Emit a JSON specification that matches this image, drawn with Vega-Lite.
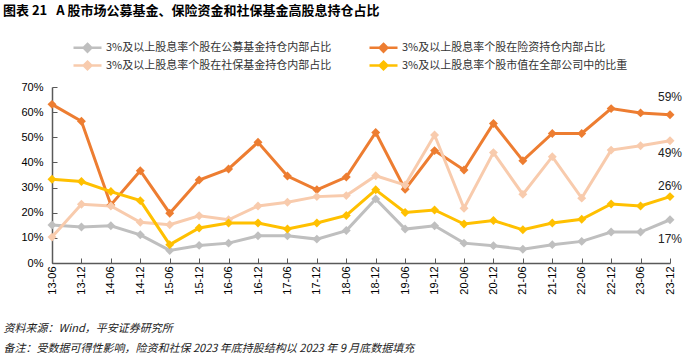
{
  "$schema": "https://vega.github.io/schema/vega-lite/v6.json",
  "width": 624,
  "height": 176,
  "autosize": "none",
  "padding": {"left": 52, "top": 87, "right": 24, "bottom": 95},
  "background": "white",
  "config": {
    "view": {"stroke": null},
    "font": "Noto Sans CJK SC"
  },
  "title": {
    "text": "图表\u00a021\u00a0\u00a0\u00a0A\u00a0股市场公募基金、保险资金和社保基金高股息持仓占比",
    "anchor": "start",
    "frame": "group",
    "dx": -49,
    "font": "Noto Sans CJK SC",
    "fontSize": 13,
    "fontWeight": "bold",
    "color": "#000000",
    "offset": 21
  },
  "data": {
    "values": [
      {"d": "13-06", "3%及以上股息率个股在公募基金持仓内部占比": 0.151, "3%及以上股息率个股在险资持仓内部占比": 0.631, "3%及以上股息率个股在社保基金持仓内部占比": 0.103, "3%及以上股息率个股市值在全部公司中的比重": 0.333},
      {"d": "13-12", "3%及以上股息率个股在公募基金持仓内部占比": 0.143, "3%及以上股息率个股在险资持仓内部占比": 0.564, "3%及以上股息率个股在社保基金持仓内部占比": 0.234, "3%及以上股息率个股市值在全部公司中的比重": 0.324},
      {"d": "14-06", "3%及以上股息率个股在公募基金持仓内部占比": 0.148, "3%及以上股息率个股在险资持仓内部占比": 0.231, "3%及以上股息率个股在社保基金持仓内部占比": 0.227, "3%及以上股息率个股市值在全部公司中的比重": 0.284},
      {"d": "14-12", "3%及以上股息率个股在公募基金持仓内部占比": 0.112, "3%及以上股息率个股在险资持仓内部占比": 0.367, "3%及以上股息率个股在社保基金持仓内部占比": 0.162, "3%及以上股息率个股市值在全部公司中的比重": 0.248},
      {"d": "15-06", "3%及以上股息率个股在公募基金持仓内部占比": 0.050, "3%及以上股息率个股在险资持仓内部占比": 0.198, "3%及以上股息率个股在社保基金持仓内部占比": 0.152, "3%及以上股息率个股市值在全部公司中的比重": 0.073},
      {"d": "15-12", "3%及以上股息率个股在公募基金持仓内部占比": 0.070, "3%及以上股息率个股在险资持仓内部占比": 0.330, "3%及以上股息率个股在社保基金持仓内部占比": 0.188, "3%及以上股息率个股市值在全部公司中的比重": 0.139},
      {"d": "16-06", "3%及以上股息率个股在公募基金持仓内部占比": 0.079, "3%及以上股息率个股在险资持仓内部占比": 0.374, "3%及以上股息率个股在社保基金持仓内部占比": 0.172, "3%及以上股息率个股市值在全部公司中的比重": 0.159},
      {"d": "16-12", "3%及以上股息率个股在公募基金持仓内部占比": 0.108, "3%及以上股息率个股在险资持仓内部占比": 0.480, "3%及以上股息率个股在社保基金持仓内部占比": 0.227, "3%及以上股息率个股市值在全部公司中的比重": 0.159},
      {"d": "17-06", "3%及以上股息率个股在公募基金持仓内部占比": 0.108, "3%及以上股息率个股在险资持仓内部占比": 0.346, "3%及以上股息率个股在社保基金持仓内部占比": 0.242, "3%及以上股息率个股市值在全部公司中的比重": 0.135},
      {"d": "17-12", "3%及以上股息率个股在公募基金持仓内部占比": 0.095, "3%及以上股息率个股在险资持仓内部占比": 0.291, "3%及以上股息率个股在社保基金持仓内部占比": 0.264, "3%及以上股息率个股市值在全部公司中的比重": 0.159},
      {"d": "18-06", "3%及以上股息率个股在公募基金持仓内部占比": 0.129, "3%及以上股息率个股在险资持仓内部占比": 0.342, "3%及以上股息率个股在社保基金持仓内部占比": 0.268, "3%及以上股息率个股市值在全部公司中的比重": 0.189},
      {"d": "18-12", "3%及以上股息率个股在公募基金持仓内部占比": 0.255, "3%及以上股息率个股在险资持仓内部占比": 0.519, "3%及以上股息率个股在社保基金持仓内部占比": 0.347, "3%及以上股息率个股市值在全部公司中的比重": 0.291},
      {"d": "19-06", "3%及以上股息率个股在公募基金持仓内部占比": 0.135, "3%及以上股息率个股在险资持仓内部占比": 0.293, "3%及以上股息率个股在社保基金持仓内部占比": 0.310, "3%及以上股息率个股市值在全部公司中的比重": 0.201},
      {"d": "19-12", "3%及以上股息率个股在公募基金持仓内部占比": 0.148, "3%及以上股息率个股在险资持仓内部占比": 0.447, "3%及以上股息率个股在社保基金持仓内部占比": 0.509, "3%及以上股息率个股市值在全部公司中的比重": 0.211},
      {"d": "20-06", "3%及以上股息率个股在公募基金持仓内部占比": 0.079, "3%及以上股息率个股在险资持仓内部占比": 0.370, "3%及以上股息率个股在社保基金持仓内部占比": 0.218, "3%及以上股息率个股市值在全部公司中的比重": 0.155},
      {"d": "20-12", "3%及以上股息率个股在公募基金持仓内部占比": 0.069, "3%及以上股息率个股在险资持仓内部占比": 0.555, "3%及以上股息率个股在社保基金持仓内部占比": 0.439, "3%及以上股息率个股市值在全部公司中的比重": 0.169},
      {"d": "21-06", "3%及以上股息率个股在公募基金持仓内部占比": 0.055, "3%及以上股息率个股在险资持仓内部占比": 0.407, "3%及以上股息率个股在社保基金持仓内部占比": 0.273, "3%及以上股息率个股市值在全部公司中的比重": 0.132},
      {"d": "21-12", "3%及以上股息率个股在公募基金持仓内部占比": 0.073, "3%及以上股息率个股在险资持仓内部占比": 0.515, "3%及以上股息率个股在社保基金持仓内部占比": 0.423, "3%及以上股息率个股市值在全部公司中的比重": 0.159},
      {"d": "22-06", "3%及以上股息率个股在公募基金持仓内部占比": 0.086, "3%及以上股息率个股在险资持仓内部占比": 0.515, "3%及以上股息率个股在社保基金持仓内部占比": 0.258, "3%及以上股息率个股市值在全部公司中的比重": 0.174},
      {"d": "22-12", "3%及以上股息率个股在公募基金持仓内部占比": 0.123, "3%及以上股息率个股在险资持仓内部占比": 0.614, "3%及以上股息率个股在社保基金持仓内部占比": 0.449, "3%及以上股息率个股市值在全部公司中的比重": 0.235},
      {"d": "23-06", "3%及以上股息率个股在公募基金持仓内部占比": 0.123, "3%及以上股息率个股在险资持仓内部占比": 0.597, "3%及以上股息率个股在社保基金持仓内部占比": 0.466, "3%及以上股息率个股市值在全部公司中的比重": 0.227},
      {"d": "23-12", "3%及以上股息率个股在公募基金持仓内部占比": 0.172, "3%及以上股息率个股在险资持仓内部占比": 0.590, "3%及以上股息率个股在社保基金持仓内部占比": 0.486, "3%及以上股息率个股市值在全部公司中的比重": 0.264}
    ]
  },
  "transform": [
    {"fold": ["3%及以上股息率个股在公募基金持仓内部占比", "3%及以上股息率个股在险资持仓内部占比", "3%及以上股息率个股在社保基金持仓内部占比", "3%及以上股息率个股市值在全部公司中的比重"], "as": ["s", "v"]}
  ],
  "encoding": {
    "x": {
      "field": "d",
      "type": "ordinal",
      "sort": null,
      "scale": {"type": "point", "range": [0, 618], "padding": 0},
      "axis": {
        "labelAngle": 270,
        "labelFont": "Liberation Sans",
        "labelFontSize": 11,
        "labelColor": "#000000",
        "labelPadding": 8,
        "tickSize": -5,
        "tickColor": "#595959",
        "domainColor": "#595959",
        "domainWidth": 1.5,
        "grid": false,
        "title": ["资料来源：Wind，平安证券研究所", "备注：受数据可得性影响，险资和社保 2023 年底持股结构以 2023 年 9 月底数据填充"],
        "titleFont": "Noto Sans CJK SC",
        "titleFontSize": 11,
        "titleFontWeight": "normal",
        "titleFontStyle": "italic",
        "titleColor": "#222222",
        "titleAnchor": "start",
        "titleAlign": "left",
        "titleBaseline": "alphabetic",
        "titleX": -49,
        "titleY": 68,
        "titleLineHeight": 20
      }
    },
    "y": {
      "field": "v",
      "type": "quantitative",
      "scale": {"domain": [0, 0.7], "nice": false},
      "axis": {
        "values": [0, 0.1, 0.2, 0.3, 0.4, 0.5, 0.6, 0.7],
        "format": ".0%",
        "labelFont": "Liberation Sans",
        "labelFontSize": 11,
        "labelColor": "#000000",
        "labelPadding": 14,
        "tickSize": -5,
        "tickColor": "#595959",
        "domainColor": "#595959",
        "domainWidth": 1.5,
        "grid": false,
        "title": null
      }
    }
  },
  "layer": [
    {
      "mark": {"type": "line", "strokeWidth": 3, "point": {"filled": true, "shape": "diamond", "size": 80}},
      "encoding": {
        "color": {
          "field": "s",
          "type": "nominal",
          "scale": {
            "domain": ["3%及以上股息率个股在公募基金持仓内部占比", "3%及以上股息率个股在社保基金持仓内部占比", "3%及以上股息率个股在险资持仓内部占比", "3%及以上股息率个股市值在全部公司中的比重"],
            "range": ["#BFBFBF", "#F8CBAD", "#ED7D31", "#FFC000"]
          },
          "legend": {
            "title": null,
            "orient": "none",
            "legendX": 27,
            "legendY": -48,
            "columns": 2,
            "columnPadding": 32,
            "rowPadding": -4,
            "padding": 0,
            "symbolType": "M-2,0H2M0,-0.55L0.55,0L0,0.55L-0.55,0Z",
            "symbolSize": 196,
            "symbolStrokeWidth": 2.5,
            "labelFont": "Noto Sans CJK SC",
            "labelFontSize": 11,
            "labelColor": "#333333",
            "labelOffset": 10,
            "labelLimit": 400,
            "encode": {"symbols": {"update": {"fill": {"scale": "color", "field": "value"}, "opacity": {"value": 1}}}}
          }
        }
      }
    },
    {
      "transform": [{"filter": "datum.d == '23-12' && datum.s == '3%及以上股息率个股在险资持仓内部占比'"}],
      "mark": {"type": "text", "dy": -18, "font": "Liberation Sans", "fontSize": 12, "color": "#222222"},
      "encoding": {"text": {"field": "v", "type": "quantitative", "format": ".0%"}}
    },
    {
      "transform": [{"filter": "datum.d == '23-12' && datum.s == '3%及以上股息率个股在社保基金持仓内部占比'"}],
      "mark": {"type": "text", "dy": 12, "font": "Liberation Sans", "fontSize": 12, "color": "#222222"},
      "encoding": {"text": {"field": "v", "type": "quantitative", "format": ".0%"}}
    },
    {
      "transform": [{"filter": "datum.d == '23-12' && datum.s == '3%及以上股息率个股市值在全部公司中的比重'"}],
      "mark": {"type": "text", "dy": -11, "font": "Liberation Sans", "fontSize": 12, "color": "#222222"},
      "encoding": {"text": {"field": "v", "type": "quantitative", "format": ".0%"}}
    },
    {
      "transform": [{"filter": "datum.d == '23-12' && datum.s == '3%及以上股息率个股在公募基金持仓内部占比'"}],
      "mark": {"type": "text", "dy": 19, "font": "Liberation Sans", "fontSize": 12, "color": "#222222"},
      "encoding": {"text": {"field": "v", "type": "quantitative", "format": ".0%"}}
    }
  ]
}
